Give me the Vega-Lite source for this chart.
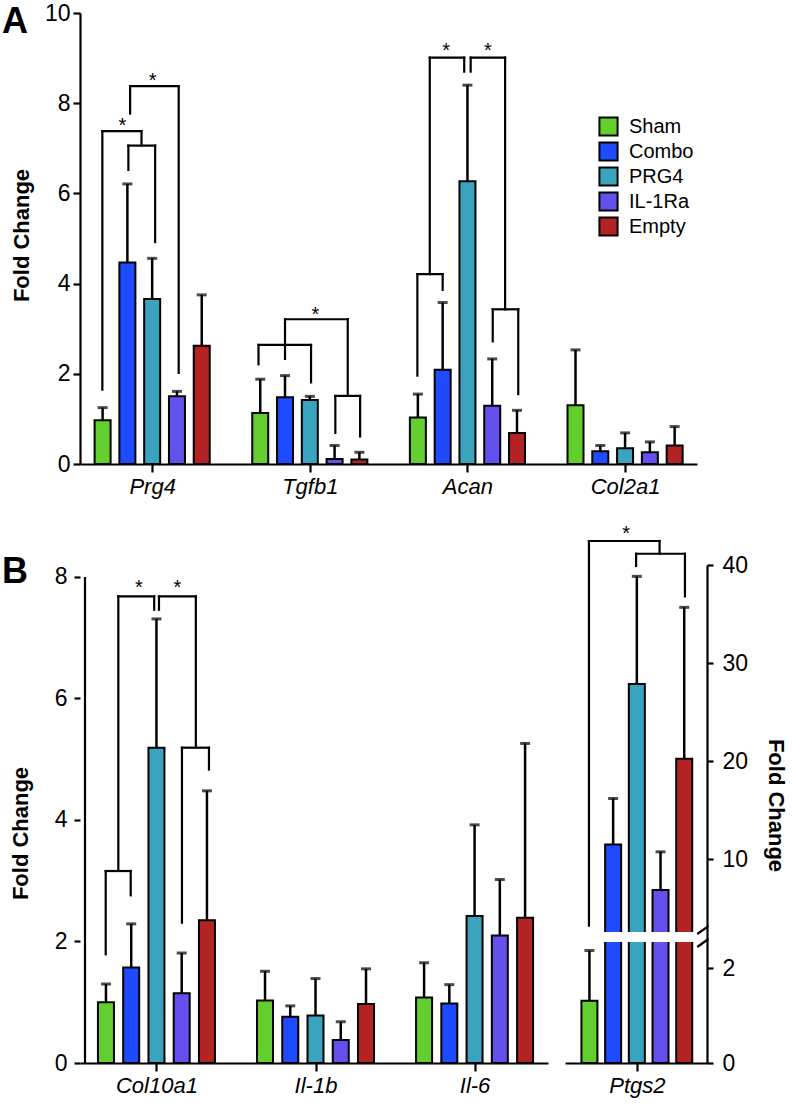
{
  "$schema": "https://vega.github.io/schema/vega-lite/v6.json",
  "background": "white",
  "padding": {"left": 2, "top": 2, "right": 5, "bottom": 5},
  "config": {
    "view": {"stroke": null},
    "font": "Liberation Sans",
    "axis": {
      "domainColor": "black", "domainWidth": 2.2, "tickColor": "black", "tickWidth": 2.2,
      "labelColor": "black", "titleColor": "black", "labelFont": "Liberation Sans", "titleFont": "Liberation Sans",
      "grid": false, "labelFontSize": 23, "titleFontSize": 22, "titleFontWeight": "bold"
    },
    "legend": {
      "title": null, "symbolType": "square", "symbolSize": 330, "symbolStrokeColor": "black", "symbolStrokeWidth": 2,
      "labelFontSize": 20, "labelFont": "Liberation Sans", "labelColor": "black", "rowPadding": -2, "labelOffset": 10
    }
  },
  "datasets": {
    "barsA": [
      {"gene": "Prg4", "group": "Sham", "mean": 0.97, "upper": 1.25},
      {"gene": "Prg4", "group": "Combo", "mean": 4.47, "upper": 6.21},
      {"gene": "Prg4", "group": "PRG4", "mean": 3.66, "upper": 4.56},
      {"gene": "Prg4", "group": "IL-1Ra", "mean": 1.5, "upper": 1.61},
      {"gene": "Prg4", "group": "Empty", "mean": 2.62, "upper": 3.75},
      {"gene": "Tgfb1", "group": "Sham", "mean": 1.13, "upper": 1.88},
      {"gene": "Tgfb1", "group": "Combo", "mean": 1.48, "upper": 1.96},
      {"gene": "Tgfb1", "group": "PRG4", "mean": 1.42, "upper": 1.5},
      {"gene": "Tgfb1", "group": "IL-1Ra", "mean": 0.11, "upper": 0.41},
      {"gene": "Tgfb1", "group": "Empty", "mean": 0.1, "upper": 0.26},
      {"gene": "Acan", "group": "Sham", "mean": 1.03, "upper": 1.55},
      {"gene": "Acan", "group": "Combo", "mean": 2.09, "upper": 3.58},
      {"gene": "Acan", "group": "PRG4", "mean": 6.27, "upper": 8.4},
      {"gene": "Acan", "group": "IL-1Ra", "mean": 1.29, "upper": 2.33},
      {"gene": "Acan", "group": "Empty", "mean": 0.69, "upper": 1.19},
      {"gene": "Col2a1", "group": "Sham", "mean": 1.3, "upper": 2.53},
      {"gene": "Col2a1", "group": "Combo", "mean": 0.28, "upper": 0.41},
      {"gene": "Col2a1", "group": "PRG4", "mean": 0.35, "upper": 0.69},
      {"gene": "Col2a1", "group": "IL-1Ra", "mean": 0.26, "upper": 0.49},
      {"gene": "Col2a1", "group": "Empty", "mean": 0.41, "upper": 0.83}
    ],
    "brA": [
      {"gene": "Prg4", "x1": -0.96, "x2": 0.12, "y1": 7.06, "y2": 7.06},
      {"gene": "Prg4", "x1": -0.96, "x2": -0.96, "y1": 7.06, "y2": 6.52},
      {"gene": "Prg4", "x1": 0.12, "x2": 0.12, "y1": 7.06, "y2": 4.92},
      {"gene": "Prg4", "x1": -2.01, "x2": -0.43, "y1": 7.38, "y2": 7.38},
      {"gene": "Prg4", "x1": -2.01, "x2": -2.01, "y1": 7.38, "y2": 1.65},
      {"gene": "Prg4", "x1": -0.43, "x2": -0.43, "y1": 7.38, "y2": 7.06},
      {"gene": "Prg4", "x1": -0.89, "x2": 1.07, "y1": 8.38, "y2": 8.38},
      {"gene": "Prg4", "x1": -0.89, "x2": -0.89, "y1": 8.38, "y2": 7.77},
      {"gene": "Prg4", "x1": 1.07, "x2": 1.07, "y1": 8.38, "y2": 2.02},
      {"gene": "Tgfb1", "x1": -2.07, "x2": 0.05, "y1": 2.64, "y2": 2.64},
      {"gene": "Tgfb1", "x1": -2.07, "x2": -2.07, "y1": 2.64, "y2": 2.21},
      {"gene": "Tgfb1", "x1": 0.05, "x2": 0.05, "y1": 2.64, "y2": 1.81},
      {"gene": "Tgfb1", "x1": -1.0, "x2": 1.53, "y1": 3.21, "y2": 3.21},
      {"gene": "Tgfb1", "x1": -1.0, "x2": -1.0, "y1": 3.21, "y2": 2.33},
      {"gene": "Tgfb1", "x1": 1.53, "x2": 1.53, "y1": 3.21, "y2": 1.51},
      {"gene": "Tgfb1", "x1": 1.03, "x2": 2.03, "y1": 1.51, "y2": 1.51},
      {"gene": "Tgfb1", "x1": 1.03, "x2": 1.03, "y1": 1.51, "y2": 0.69},
      {"gene": "Tgfb1", "x1": 2.03, "x2": 2.03, "y1": 1.51, "y2": 0.61},
      {"gene": "Acan", "x1": -1.52, "x2": -0.13, "y1": 9.01, "y2": 9.01},
      {"gene": "Acan", "x1": -1.52, "x2": -1.52, "y1": 9.01, "y2": 4.21},
      {"gene": "Acan", "x1": -0.13, "x2": -0.13, "y1": 9.01, "y2": 8.7},
      {"gene": "Acan", "x1": 0.13, "x2": 1.52, "y1": 9.01, "y2": 9.01},
      {"gene": "Acan", "x1": 0.13, "x2": 0.13, "y1": 9.01, "y2": 8.7},
      {"gene": "Acan", "x1": 1.52, "x2": 1.52, "y1": 9.01, "y2": 3.43},
      {"gene": "Acan", "x1": -2.02, "x2": -1.0, "y1": 4.21, "y2": 4.21},
      {"gene": "Acan", "x1": -2.02, "x2": -2.02, "y1": 4.21, "y2": 1.96},
      {"gene": "Acan", "x1": -1.0, "x2": -1.0, "y1": 4.21, "y2": 3.86},
      {"gene": "Acan", "x1": 1.02, "x2": 2.05, "y1": 3.43, "y2": 3.43},
      {"gene": "Acan", "x1": 1.02, "x2": 1.02, "y1": 3.43, "y2": 2.72},
      {"gene": "Acan", "x1": 2.05, "x2": 2.05, "y1": 3.43, "y2": 1.55}
    ],
    "starsA": [
      {"gene": "Prg4", "x": -1.2, "y": 7.58},
      {"gene": "Prg4", "x": 0.02, "y": 8.58},
      {"gene": "Tgfb1", "x": 0.23, "y": 3.4},
      {"gene": "Acan", "x": -0.86, "y": 9.25},
      {"gene": "Acan", "x": 0.82, "y": 9.25}
    ],
    "barsB": [
      {"gene": "Col10a1", "group": "Sham", "mean": 1.0, "upper": 1.3},
      {"gene": "Col10a1", "group": "Combo", "mean": 1.57, "upper": 2.29},
      {"gene": "Col10a1", "group": "PRG4", "mean": 5.19, "upper": 7.31},
      {"gene": "Col10a1", "group": "IL-1Ra", "mean": 1.15, "upper": 1.81},
      {"gene": "Col10a1", "group": "Empty", "mean": 2.35, "upper": 4.48},
      {"gene": "Il-1b", "group": "Sham", "mean": 1.03, "upper": 1.51},
      {"gene": "Il-1b", "group": "Combo", "mean": 0.76, "upper": 0.94},
      {"gene": "Il-1b", "group": "PRG4", "mean": 0.78, "upper": 1.39},
      {"gene": "Il-1b", "group": "IL-1Ra", "mean": 0.38, "upper": 0.68},
      {"gene": "Il-1b", "group": "Empty", "mean": 0.97, "upper": 1.55},
      {"gene": "Il-6", "group": "Sham", "mean": 1.08, "upper": 1.65},
      {"gene": "Il-6", "group": "Combo", "mean": 0.98, "upper": 1.29},
      {"gene": "Il-6", "group": "PRG4", "mean": 2.42, "upper": 3.92},
      {"gene": "Il-6", "group": "IL-1Ra", "mean": 2.1, "upper": 3.02},
      {"gene": "Il-6", "group": "Empty", "mean": 2.39, "upper": 5.26}
    ],
    "brB": [
      {"gene": "Col10a1", "x1": -2.01, "x2": -1.02, "y1": 3.16, "y2": 3.16},
      {"gene": "Col10a1", "x1": -2.01, "x2": -2.01, "y1": 3.16, "y2": 1.79},
      {"gene": "Col10a1", "x1": -1.02, "x2": -1.02, "y1": 3.16, "y2": 2.76},
      {"gene": "Col10a1", "x1": -1.51, "x2": -0.09, "y1": 7.68, "y2": 7.68},
      {"gene": "Col10a1", "x1": -1.51, "x2": -1.51, "y1": 7.68, "y2": 3.16},
      {"gene": "Col10a1", "x1": -0.09, "x2": -0.09, "y1": 7.68, "y2": 7.46},
      {"gene": "Col10a1", "x1": 0.1, "x2": 1.56, "y1": 7.68, "y2": 7.68},
      {"gene": "Col10a1", "x1": 0.1, "x2": 0.1, "y1": 7.68, "y2": 7.46},
      {"gene": "Col10a1", "x1": 1.56, "x2": 1.56, "y1": 7.68, "y2": 5.19},
      {"gene": "Col10a1", "x1": 1.01, "x2": 2.08, "y1": 5.19, "y2": 5.19},
      {"gene": "Col10a1", "x1": 1.01, "x2": 1.01, "y1": 5.19, "y2": 2.31},
      {"gene": "Col10a1", "x1": 2.08, "x2": 2.08, "y1": 5.19, "y2": 4.83}
    ],
    "starsB": [
      {"gene": "Col10a1", "x": -0.7, "y": 7.89},
      {"gene": "Col10a1", "x": 0.83, "y": 7.89}
    ],
    "barsP": [
      {"gene": "Ptgs2", "group": "Sham", "mean": 1.31, "upper": 2.37},
      {"gene": "Ptgs2", "group": "Combo", "mean": 11.49, "upper": 16.18},
      {"gene": "Ptgs2", "group": "PRG4", "mean": 27.86, "upper": 38.84},
      {"gene": "Ptgs2", "group": "IL-1Ra", "mean": 6.84, "upper": 10.74},
      {"gene": "Ptgs2", "group": "Empty", "mean": 20.23, "upper": 35.68}
    ],
    "brP": [
      {"gene": "Ptgs2", "x1": -2.02, "x2": 0.96, "y1": 42.45, "y2": 42.45},
      {"gene": "Ptgs2", "x1": -2.02, "x2": -2.02, "y1": 42.45, "y2": 3.2},
      {"gene": "Ptgs2", "x1": 0.96, "x2": 0.96, "y1": 42.45, "y2": 41.15},
      {"gene": "Ptgs2", "x1": -0.03, "x2": 2.03, "y1": 41.15, "y2": 41.15},
      {"gene": "Ptgs2", "x1": -0.03, "x2": -0.03, "y1": 41.15, "y2": 39.9},
      {"gene": "Ptgs2", "x1": 2.03, "x2": 2.03, "y1": 41.15, "y2": 36.8}
    ],
    "starsP": [
      {"gene": "Ptgs2", "x": -0.45, "y": 43.6}
    ]
  },
  "resolve": {"scale": {"color": "independent"}},
  "bounds": "flush",
  "spacing": 101,
  "vconcat": [
    {
      "width": 617,
      "height": 451,
      "title": {"text": "A", "anchor": "start", "frame": "group", "orient": "top", "offset": 0, "dx": -78, "dy": 67, "fontSize": 36, "fontWeight": "bold", "baseline": "alphabetic", "color": "black", "font": "Liberation Sans"},
      "layer": [
        {
          "data": {"name": "barsA"},
          "transform": [{"calculate": "indexof(['Prg4','Tgfb1','Acan','Col2a1'], datum.gene) * 6.36 + indexof(['Sham','Combo','PRG4','IL-1Ra','Empty'], datum.group) - 2", "as": "x"}],
          "mark": {"type": "rule", "strokeWidth": 2.5, "color": "black"},
          "encoding": {
            "x": {"field": "x", "type": "quantitative", "scale": {"domain": [-2.71, 21.78], "nice": false, "zero": false},
              "axis": {"title": null, "values": [0, 6.36, 12.72, 19.08], "labelExpr": "['Prg4','Tgfb1','Acan','Col2a1'][round(datum.value/6.36)]", "labelFontStyle": "italic", "labelFontSize": 22, "tickSize": 8, "labelPadding": 4}},
            "y": {"field": "mean", "type": "quantitative", "scale": {"domain": [0, 10], "nice": false},
              "axis": {"title": "Fold Change", "values": [0, 2, 4, 6, 8, 10], "format": "d", "tickSize": 7, "labelPadding": 3, "titleX": -59, "titleY": 222, "titleBaseline": "middle", "titleAlign": "center", "titleAngle": 270}},
            "y2": {"field": "upper"}
          }
        },
        {
          "data": {"name": "barsA"},
          "transform": [{"calculate": "indexof(['Prg4','Tgfb1','Acan','Col2a1'], datum.gene) * 6.36 + indexof(['Sham','Combo','PRG4','IL-1Ra','Empty'], datum.group) - 2", "as": "x"}],
          "mark": {"type": "tick", "orient": "horizontal", "size": 10, "thickness": 3, "color": "black"},
          "encoding": {
            "x": {"field": "x", "type": "quantitative"},
            "y": {"field": "upper", "type": "quantitative"}
          }
        },
        {
          "data": {"name": "barsA"},
          "transform": [{"calculate": "indexof(['Prg4','Tgfb1','Acan','Col2a1'], datum.gene) * 6.36 + indexof(['Sham','Combo','PRG4','IL-1Ra','Empty'], datum.group) - 2", "as": "x"}],
          "mark": {"type": "bar", "orient": "vertical", "width": 16, "stroke": "black", "strokeWidth": 2},
          "encoding": {
            "x": {"field": "x", "type": "quantitative"},
            "y": {"field": "mean", "type": "quantitative"},
            "color": {"field": "group", "type": "nominal",
              "scale": {"domain": ["Sham", "Combo", "PRG4", "IL-1Ra", "Empty"], "range": ["#62CF2E", "#1E4BFF", "#3AA4BE", "#6450EC", "#B32323"]},
              "legend": {"orient": "none", "legendX": 518, "legendY": 103}}
          }
        },
        {
          "data": {"name": "brA"},
          "transform": [
            {"calculate": "indexof(['Prg4','Tgfb1','Acan','Col2a1'], datum.gene) * 6.36 + datum.x1", "as": "bx1"},
            {"calculate": "indexof(['Prg4','Tgfb1','Acan','Col2a1'], datum.gene) * 6.36 + datum.x2", "as": "bx2"}
          ],
          "mark": {"type": "rule", "strokeWidth": 2.2, "color": "black", "strokeCap": "square"},
          "encoding": {
            "x": {"field": "bx1", "type": "quantitative"},
            "x2": {"field": "bx2"},
            "y": {"field": "y1", "type": "quantitative"},
            "y2": {"field": "y2"}
          }
        },
        {
          "data": {"name": "starsA"},
          "transform": [{"calculate": "indexof(['Prg4','Tgfb1','Acan','Col2a1'], datum.gene) * 6.36 + datum.x", "as": "sx"}],
          "mark": {"type": "text", "text": "*", "fontSize": 20, "baseline": "middle", "dy": 4, "color": "black", "font": "Liberation Sans"},
          "encoding": {
            "x": {"field": "sx", "type": "quantitative"},
            "y": {"field": "y", "type": "quantitative"}
          }
        }
      ]
    },
    {
      "bounds": "flush",
      "spacing": 17,
      "resolve": {"scale": {"color": "independent"}},
      "hconcat": [
        {
          "width": 468,
          "height": 498,
          "title": {"text": "B", "anchor": "start", "frame": "group", "orient": "top", "offset": 0, "dx": -78, "dy": 54, "fontSize": 36, "fontWeight": "bold", "baseline": "alphabetic", "color": "black", "font": "Liberation Sans"},
          "layer": [
            {
              "data": {"name": "barsB"},
              "transform": [{"calculate": "indexof(['Col10a1','Il-1b','Il-6'], datum.gene) * 6.3 + indexof(['Sham','Combo','PRG4','IL-1Ra','Empty'], datum.group) - 2", "as": "x"}],
              "mark": {"type": "rule", "strokeWidth": 2.5, "color": "black"},
              "encoding": {
                "x": {"field": "x", "type": "quantitative", "scale": {"domain": [-2.83, 15.31], "nice": false, "zero": false},
                  "axis": {"title": null, "values": [0, 6.3, 12.6], "labelExpr": "['Col10a1','Il-1b','Il-6'][round(datum.value/6.3)]", "labelFontStyle": "italic", "labelFontSize": 22, "tickSize": 8, "labelPadding": 4}},
                "y": {"field": "mean", "type": "quantitative", "scale": {"domain": [0, 8.197], "nice": false},
                  "axis": {"title": "Fold Change", "values": [0, 2, 4, 6, 8], "format": "d", "domain": false, "tickSize": 6, "labelPadding": 7, "titleX": -60, "titleY": 268, "titleBaseline": "middle", "titleAlign": "center", "titleAngle": 270}},
                "y2": {"field": "upper"}
              }
            },
            {
              "data": {"name": "barsB"},
              "transform": [{"calculate": "indexof(['Col10a1','Il-1b','Il-6'], datum.gene) * 6.3 + indexof(['Sham','Combo','PRG4','IL-1Ra','Empty'], datum.group) - 2", "as": "x"}],
              "mark": {"type": "tick", "orient": "horizontal", "size": 10, "thickness": 3, "color": "black"},
              "encoding": {
                "x": {"field": "x", "type": "quantitative"},
                "y": {"field": "upper", "type": "quantitative"}
              }
            },
            {
              "data": {"name": "barsB"},
              "transform": [{"calculate": "indexof(['Col10a1','Il-1b','Il-6'], datum.gene) * 6.3 + indexof(['Sham','Combo','PRG4','IL-1Ra','Empty'], datum.group) - 2", "as": "x"}],
              "mark": {"type": "bar", "orient": "vertical", "width": 16, "stroke": "black", "strokeWidth": 2},
              "encoding": {
                "x": {"field": "x", "type": "quantitative"},
                "y": {"field": "mean", "type": "quantitative"},
                "color": {"field": "group", "type": "nominal",
                  "scale": {"domain": ["Sham", "Combo", "PRG4", "IL-1Ra", "Empty"], "range": ["#62CF2E", "#1E4BFF", "#3AA4BE", "#6450EC", "#B32323"]},
                  "legend": null}
              }
            },
            {
              "data": {"values": [{}]},
              "mark": {"type": "rule", "strokeWidth": 2.2, "color": "black"},
              "encoding": {
                "x": {"datum": -2.83},
                "y": {"datum": 0},
                "y2": {"datum": 8}
              }
            },
            {
              "data": {"name": "brB"},
              "transform": [
                {"calculate": "indexof(['Col10a1','Il-1b','Il-6'], datum.gene) * 6.3 + datum.x1", "as": "bx1"},
                {"calculate": "indexof(['Col10a1','Il-1b','Il-6'], datum.gene) * 6.3 + datum.x2", "as": "bx2"}
              ],
              "mark": {"type": "rule", "strokeWidth": 2.2, "color": "black", "strokeCap": "square"},
              "encoding": {
                "x": {"field": "bx1", "type": "quantitative"},
                "x2": {"field": "bx2"},
                "y": {"field": "y1", "type": "quantitative"},
                "y2": {"field": "y2"}
              }
            },
            {
              "data": {"name": "starsB"},
              "transform": [{"calculate": "indexof(['Col10a1','Il-1b','Il-6'], datum.gene) * 6.3 + datum.x", "as": "sx"}],
              "mark": {"type": "text", "text": "*", "fontSize": 20, "baseline": "middle", "dy": 4, "color": "black", "font": "Liberation Sans"},
              "encoding": {
                "x": {"field": "sx", "type": "quantitative"},
                "y": {"field": "y", "type": "quantitative"}
              }
            }
          ]
        },
        {
          "width": 142,
          "height": 498,
          "layer": [
            {
              "data": {"name": "barsP"},
              "transform": [{"calculate": "indexof(['Sham','Combo','PRG4','IL-1Ra','Empty'], datum.group) - 2", "as": "x"}],
              "mark": {"type": "rule", "strokeWidth": 2.5, "color": "black"},
              "encoding": {
                "x": {"field": "x", "type": "quantitative", "scale": {"domain": [-2.82, 2.75], "nice": false, "zero": false},
                  "axis": {"title": null, "values": [0], "labelExpr": "'Ptgs2'", "labelFontStyle": "italic", "labelFontSize": 22, "tickSize": 8, "labelPadding": 4}},
                "y": {"field": "mean", "type": "quantitative", "scale": {"domain": [0, 2.55, 2.56, 40], "range": [498, 377, 367, 0], "nice": false, "zero": false},
                  "axis": {"orient": "right", "title": "Fold Change", "values": [0, 2, 10, 20, 30, 40], "format": "d", "tickSize": 6, "labelPadding": 9, "titleX": 68, "titleY": 240, "titleBaseline": "middle", "titleAlign": "center", "titleAngle": 90, "zindex": 0}},
                "y2": {"field": "upper"}
              }
            },
            {
              "data": {"name": "barsP"},
              "transform": [{"calculate": "indexof(['Sham','Combo','PRG4','IL-1Ra','Empty'], datum.group) - 2", "as": "x"}],
              "mark": {"type": "tick", "orient": "horizontal", "size": 10, "thickness": 3, "color": "black"},
              "encoding": {
                "x": {"field": "x", "type": "quantitative"},
                "y": {"field": "upper", "type": "quantitative"}
              }
            },
            {
              "data": {"name": "barsP"},
              "transform": [{"calculate": "indexof(['Sham','Combo','PRG4','IL-1Ra','Empty'], datum.group) - 2", "as": "x"}],
              "mark": {"type": "bar", "orient": "vertical", "width": 16, "stroke": "black", "strokeWidth": 2},
              "encoding": {
                "x": {"field": "x", "type": "quantitative"},
                "y": {"field": "mean", "type": "quantitative"},
                "color": {"field": "group", "type": "nominal",
                  "scale": {"domain": ["Sham", "Combo", "PRG4", "IL-1Ra", "Empty"], "range": ["#62CF2E", "#1E4BFF", "#3AA4BE", "#6450EC", "#B32323"]},
                  "legend": null}
              }
            },
            {
              "data": {"values": [{}]},
              "mark": {"type": "rect", "color": "white"},
              "encoding": {
                "x": {"datum": -2.82},
                "x2": {"datum": 2.9},
                "y": {"datum": 2.55},
                "y2": {"datum": 2.56}
              }
            },
            {
              "data": {"values": [{}]},
              "mark": {"type": "rule", "strokeWidth": 2.2, "color": "black"},
              "encoding": {
                "x": {"datum": 2.55},
                "x2": {"datum": 3.02},
                "y": {"datum": 2.558},
                "y2": {"datum": 3.17}
              }
            },
            {
              "data": {"values": [{}]},
              "mark": {"type": "rule", "strokeWidth": 2.2, "color": "black"},
              "encoding": {
                "x": {"datum": 2.55},
                "x2": {"datum": 3.02},
                "y": {"datum": 2.445},
                "y2": {"datum": 2.553}
              }
            },
            {
              "data": {"name": "brP"},
              "mark": {"type": "rule", "strokeWidth": 2.2, "color": "black", "strokeCap": "square"},
              "encoding": {
                "x": {"field": "x1", "type": "quantitative"},
                "x2": {"field": "x2"},
                "y": {"field": "y1", "type": "quantitative"},
                "y2": {"field": "y2"}
              }
            },
            {
              "data": {"name": "starsP"},
              "mark": {"type": "text", "text": "*", "fontSize": 20, "baseline": "middle", "dy": 4, "color": "black", "font": "Liberation Sans"},
              "encoding": {
                "x": {"field": "x", "type": "quantitative"},
                "y": {"field": "y", "type": "quantitative"}
              }
            }
          ]
        }
      ]
    }
  ]
}
